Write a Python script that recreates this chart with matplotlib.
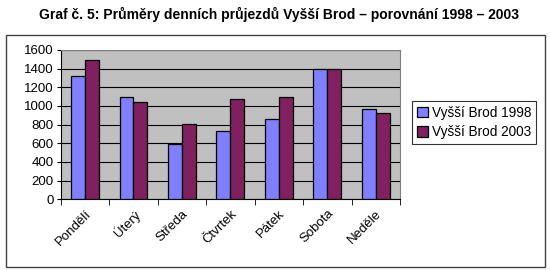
import numpy as np
import matplotlib.pyplot as plt
from matplotlib.patches import Rectangle

plt.rcParams['font.family'] = ['Liberation Sans', 'DejaVu Sans']

# data
days = ['Pondělí', 'Úterý', 'Středa', 'Čtvrtek', 'Pátek', 'Sobota', 'Neděle']
vb_1998 = [1325, 1100, 590, 735, 860, 1400, 965]
vb_2003 = [1495, 1040, 810, 1075, 1100, 1400, 920]
labels = ['Vyšší Brod 1998', 'Vyšší Brod 2003']
title = 'Graf č. 5: Průměry denních průjezdů Vyšší Brod – porovnání 1998 – 2003'

fig = plt.figure(figsize=(5.5, 2.7), dpi=100)
fig.patches.append(Rectangle((6 / 550, 3 / 270), 539 / 550, 232 / 270,
                             transform=fig.transFigure, fill=False,
                             edgecolor='#404040', linewidth=1.0))
fig.text(0.508, 0.945, title, ha='center', va='center', fontsize=10, fontweight='bold')

ax = fig.add_axes([60.7 / 550, 70.7 / 270, 339.3 / 550, 149.3 / 270])
ax.set_facecolor('#C0C0C0')
x = np.arange(len(days))
w = 0.286
ax.bar(x - w / 2, vb_1998, w, color='#8080FF', edgecolor='black', linewidth=0.9,
       label=labels[0], zorder=3)
ax.bar(x + w / 2, vb_2003, w, color='#802060', edgecolor='black', linewidth=0.9,
       label=labels[1], zorder=3)

ax.set_xlim(-0.5, len(days) - 0.5)
ax.set_ylim(0, 1600)
ax.set_yticks(np.arange(0, 1601, 200))
ax.yaxis.grid(True, color='black', linewidth=0.8, zorder=0)
ax.set_axisbelow(True)
ax.tick_params(axis='y', labelsize=9.5, length=3, direction='out', pad=2)

ax.set_xticks(x)
ax.set_xticklabels(days, rotation=45, ha='right', rotation_mode='anchor', fontsize=9.5)
ax.tick_params(axis='x', which='major', length=0, pad=6)
ax.set_xticks(np.arange(-0.5, len(days), 1.0), minor=True)
ax.tick_params(axis='x', which='minor', length=4, direction='out')

for s in ['top', 'right']:
    ax.spines[s].set_color('#808080')
for s in ['left', 'bottom']:
    ax.spines[s].set_color('black')

leg = fig.legend(loc='upper left', bbox_to_anchor=(412 / 550, 1 - 101 / 270),
                 fontsize=9.8, frameon=True, fancybox=False, edgecolor='black',
                 handlelength=0.8, handleheight=0.8, handletextpad=0.3,
                 borderpad=0.35, labelspacing=0.4, borderaxespad=0)
leg.get_frame().set_linewidth(0.8)

fig.savefig('out.png', dpi=100)
